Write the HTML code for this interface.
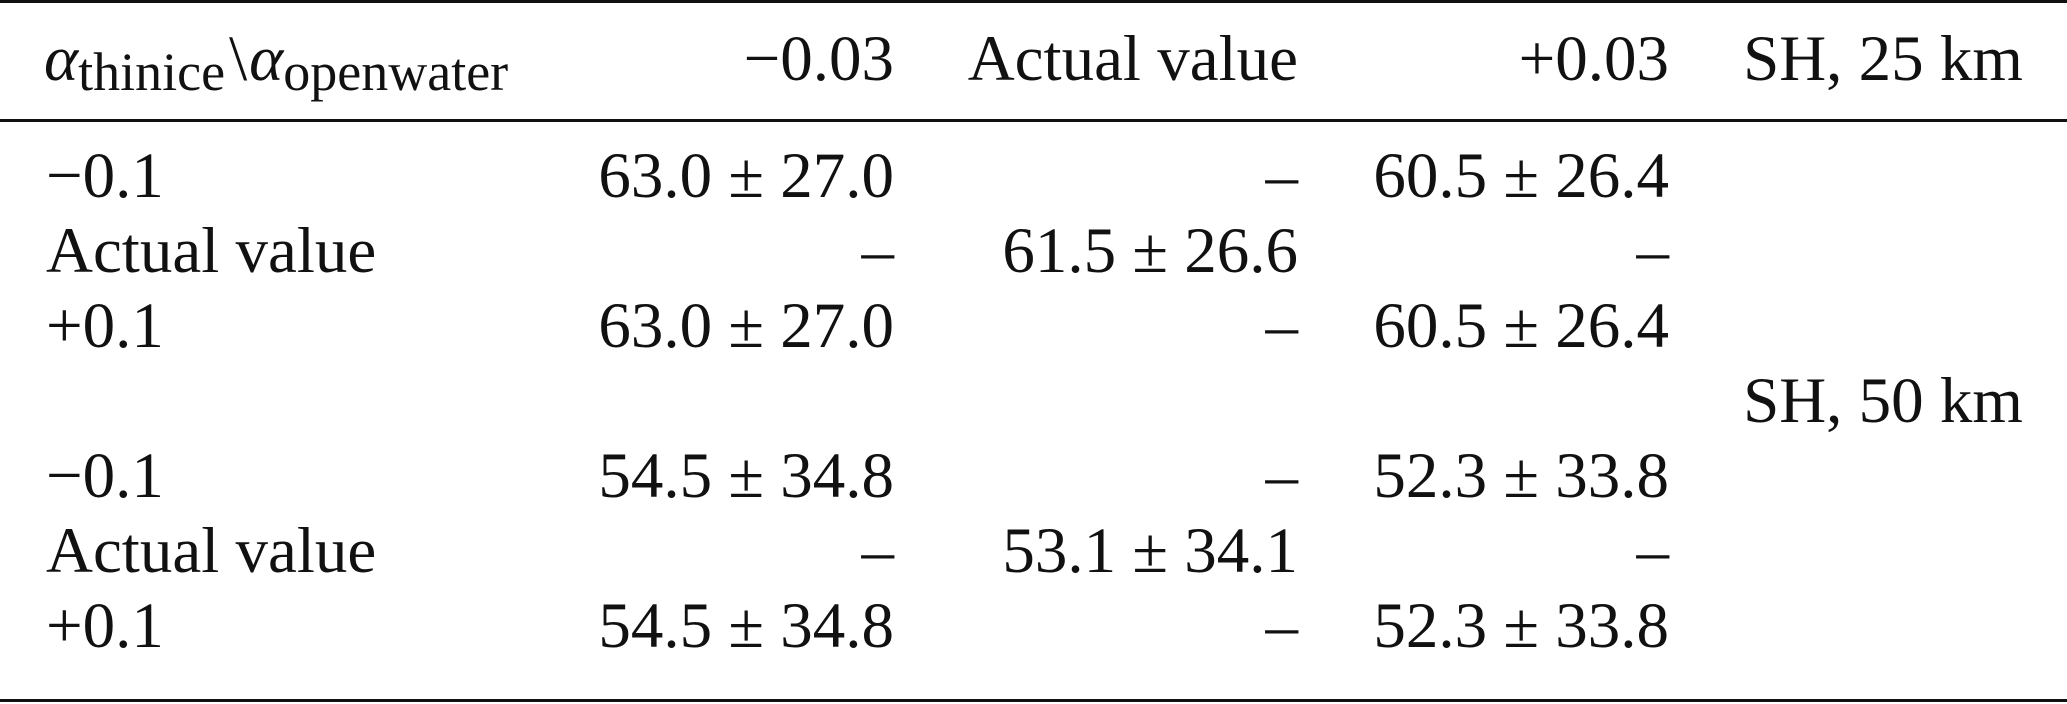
<!DOCTYPE html>
<html><head><meta charset="utf-8"><style>
html,body{margin:0;padding:0;background:#fff;}
svg{display:block}
text{font-family:"Liberation Serif",serif;font-size:65px;fill:#111;}
</style></head><body>
<svg width="2067" height="704" viewBox="0 0 2067 704">
<rect x="0" y="0" width="2067" height="3" fill="#111"/>
<rect x="0" y="119" width="2067" height="3" fill="#111"/>
<rect x="0" y="699" width="2067" height="3" fill="#111"/>
<g>
<text x="44" y="80"><tspan font-style="italic">α</tspan><tspan font-size="54" dy="10">thinice</tspan><tspan dy="-10" dx="4">\</tspan><tspan font-style="italic" dx="2">α</tspan><tspan font-size="54" dy="10">openwater</tspan></text>
<text x="894" y="80" text-anchor="end">−0.03</text>
<text x="1298" y="80" text-anchor="end">Actual value</text>
<text x="1669" y="80" text-anchor="end">+0.03</text>
<text x="2023" y="80" text-anchor="end">SH, 25 km</text>
</g>
<g>
<text x="46" y="197">−0.1</text>
<text x="894" y="197" text-anchor="end">63.0 ± 27.0</text>
<text x="1298" y="197" text-anchor="end">–</text>
<text x="1669" y="197" text-anchor="end">60.5 ± 26.4</text>

<text x="46" y="272">Actual value</text>
<text x="894" y="272" text-anchor="end">–</text>
<text x="1298" y="272" text-anchor="end">61.5 ± 26.6</text>
<text x="1669" y="272" text-anchor="end">–</text>

<text x="46" y="347">+0.1</text>
<text x="894" y="347" text-anchor="end">63.0 ± 27.0</text>
<text x="1298" y="347" text-anchor="end">–</text>
<text x="1669" y="347" text-anchor="end">60.5 ± 26.4</text>

<text x="2023" y="422" text-anchor="end">SH, 50 km</text>

<text x="46" y="497">−0.1</text>
<text x="894" y="497" text-anchor="end">54.5 ± 34.8</text>
<text x="1298" y="497" text-anchor="end">–</text>
<text x="1669" y="497" text-anchor="end">52.3 ± 33.8</text>

<text x="46" y="572">Actual value</text>
<text x="894" y="572" text-anchor="end">–</text>
<text x="1298" y="572" text-anchor="end">53.1 ± 34.1</text>
<text x="1669" y="572" text-anchor="end">–</text>

<text x="46" y="647">+0.1</text>
<text x="894" y="647" text-anchor="end">54.5 ± 34.8</text>
<text x="1298" y="647" text-anchor="end">–</text>
<text x="1669" y="647" text-anchor="end">52.3 ± 33.8</text>
</g>
</svg>
</body></html>
